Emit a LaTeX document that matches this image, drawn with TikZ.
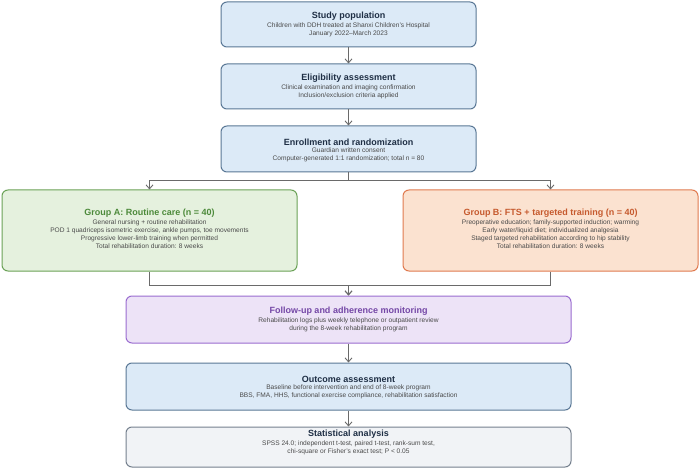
\documentclass[tikz,border=0pt]{standalone}
\usepackage{fontspec}
\setmainfont{Liberation Sans}
\usetikzlibrary{arrows.meta}
\definecolor{bfill}{HTML}{DCEAF7}\definecolor{bdraw}{HTML}{5A7896}\definecolor{btxt}{HTML}{1F2F45}
\definecolor{gfill}{HTML}{E5F1DE}\definecolor{gdraw}{HTML}{6BA257}\definecolor{gtxt}{HTML}{4C8A3A}
\definecolor{ofill}{HTML}{FBE2D0}\definecolor{odraw}{HTML}{E07A4F}\definecolor{otxt}{HTML}{C65A2E}
\definecolor{pfill}{HTML}{EDE3F7}\definecolor{pdraw}{HTML}{9A6CD0}\definecolor{ptxt}{HTML}{7447A6}
\definecolor{sfill}{HTML}{F1F3F6}\definecolor{sdraw}{HTML}{75808E}
\definecolor{body}{HTML}{4A4A4A}\definecolor{conn}{HTML}{6A6A6A}
\begin{document}
\begin{tikzpicture}[x=1pt,y=-1pt,
 box/.style={draw,rounded corners=6pt,line width=1pt,align=center,inner sep=0pt},
 ttl/.style={font=\fontsize{9}{10}\selectfont\bfseries,inner sep=1pt},
 bd/.style={font=\fontsize{6.6}{8}\selectfont,text=body,align=center,inner sep=1pt},
 arr/.style={draw=conn,line width=0.9pt,-{Straight Barb[length=4pt,width=7pt]}}]
\useasboundingbox[fill=white] (0,0) rectangle (700,470);
\node[box,fill=bfill,draw=bdraw,minimum width=255,minimum height=45] (s1) at (348.5,24.5) {};
\node[anchor=south,ttl,text=btxt] at (348.5,22) {Study population};
\node[anchor=north,bd] at (348.5,22) {Children with DDH treated at Shanxi Children's Hospital\\January 2022–March 2023};

\node[box,fill=bfill,draw=bdraw,minimum width=255,minimum height=45] (s2) at (348.5,86.5) {};
\node[anchor=south,ttl,text=btxt] at (348.5,84) {Eligibility assessment};
\node[anchor=north,bd] at (348.5,84) {Clinical examination and imaging confirmation\\Inclusion/exclusion criteria applied};

\node[box,fill=bfill,draw=bdraw,minimum width=255,minimum height=46] (s3) at (348.5,149) {};
\node[anchor=south,ttl,text=btxt] at (348.5,146.5) {Enrollment and randomization};
\node[anchor=north,bd] at (348.5,146.5) {Guardian written consent\\Computer-generated 1:1 randomization; total n = 80};

\node[box,fill=gfill,draw=gdraw,minimum width=295,minimum height=81] (ga) at (149.5,230.5) {};
\node[anchor=south,ttl,text=gtxt] at (149.5,219) {Group A: Routine care (n = 40)};
\node[anchor=north,bd] at (149.5,219) {General nursing + routine rehabilitation\\POD 1 quadriceps isometric exercise, ankle pumps, toe movements\\Progressive lower-limb training when permitted\\Total rehabilitation duration: 8 weeks};

\node[box,fill=ofill,draw=odraw,minimum width=295,minimum height=81] (gb) at (550.5,230.5) {};
\node[anchor=south,ttl,text=otxt] at (550.5,219) {Group B: FTS + targeted training (n = 40)};
\node[anchor=north,bd] at (550.5,219) {Preoperative education; family-supported induction; warming\\Early water/liquid diet; individualized analgesia\\Staged targeted rehabilitation according to hip stability\\Total rehabilitation duration: 8 weeks};

\node[box,fill=pfill,draw=pdraw,minimum width=445,minimum height=47] (fu) at (348.5,319.5) {};
\node[anchor=south,ttl,text=ptxt] at (348.5,317) {Follow-up and adherence monitoring};
\node[anchor=north,bd] at (348.5,317) {Rehabilitation logs plus weekly telephone or outpatient review\\during the 8-week rehabilitation program};

\node[box,fill=bfill,draw=bdraw,minimum width=445,minimum height=47] (oa) at (348.5,386.5) {};
\node[anchor=south,ttl,text=btxt] at (348.5,384) {Outcome assessment};
\node[anchor=north,bd] at (348.5,384) {Baseline before intervention and end of 8-week program\\BBS, FMA, HHS, functional exercise compliance, rehabilitation satisfaction};

\node[box,fill=sfill,draw=sdraw,minimum width=445,minimum height=40] (sa) at (348.5,447) {};
\node[anchor=south,ttl,text=btxt] at (348.5,440) {Statistical analysis};
\node[anchor=north,bd] at (348.5,440) {SPSS 24.0; independent t-test, paired t-test, rank-sum test,\\chi-square or Fisher's exact test; P < 0.05};

\draw[arr] (s1) -- (s2);
\draw[arr] (s2) -- (s3);
\draw[arr] (s3.south) -- ++(0,8) -| (ga.north);
\draw[arr] (s3.south) -- ++(0,8) -| (gb.north);
\draw[arr] (ga.south) -- ++(0,14) -| (fu.north);
\draw[arr] (gb.south) -- ++(0,14) -| (fu.north);
\draw[arr] (fu) -- (oa);
\draw[arr] (oa) -- (sa);
\end{tikzpicture}
\end{document}
